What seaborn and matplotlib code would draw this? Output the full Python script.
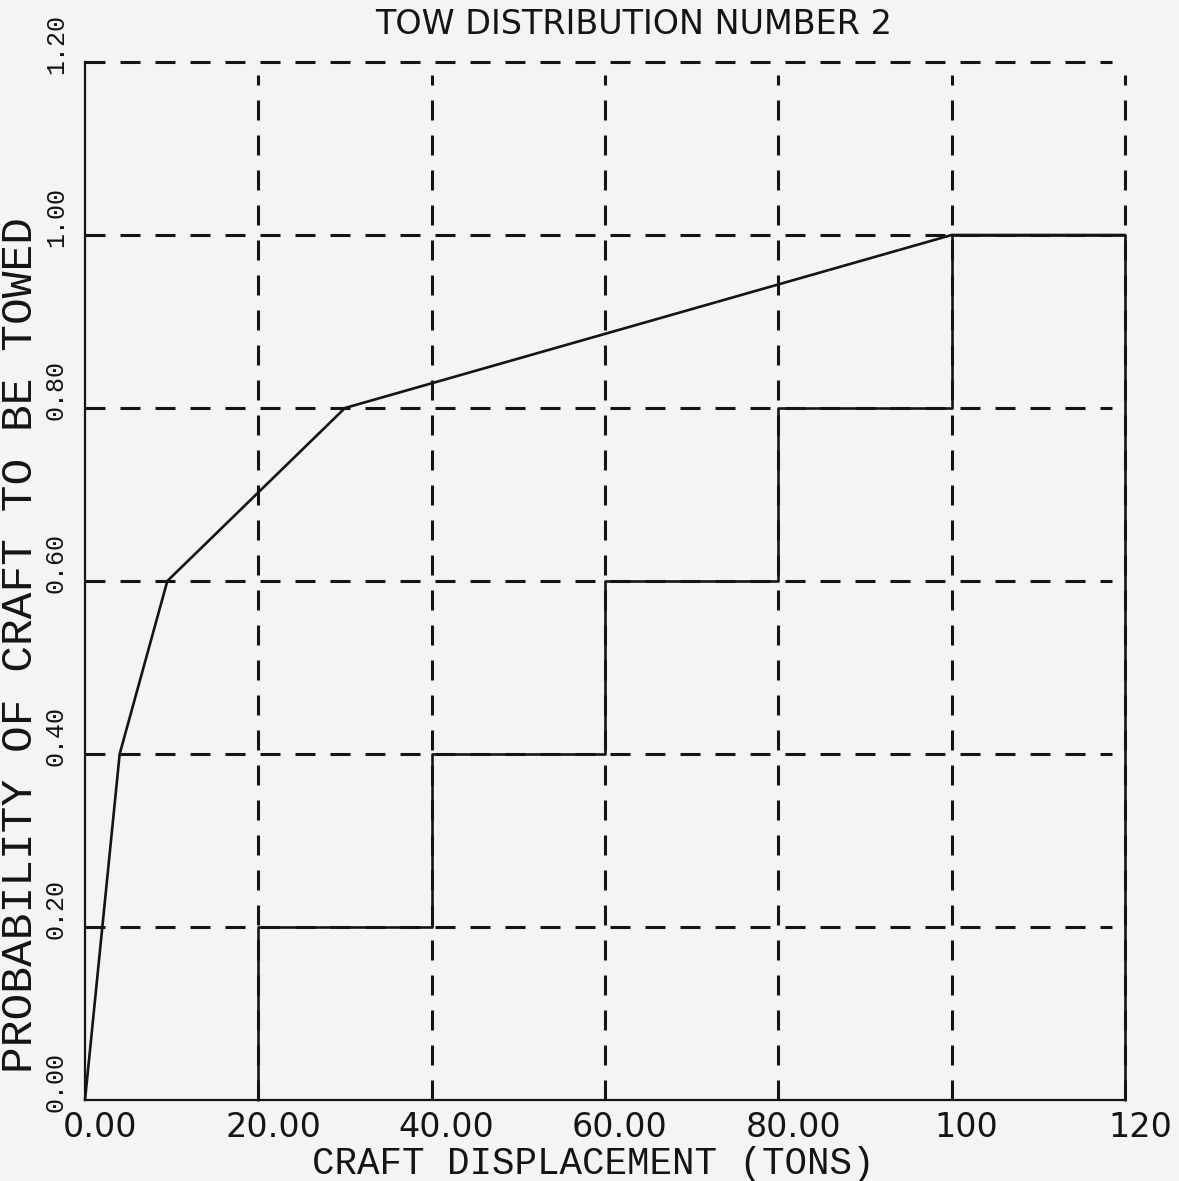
import matplotlib
matplotlib.use("Agg")
import matplotlib.pyplot as plt
import matplotlib.transforms as mtransforms
import numpy as np
import pandas as pd
import seaborn as sns

# Cumulative tow probability against craft displacement
displacement = [0.0, 2.0, 4.0, 9.5, 30.0, 100.0, 120.0]
probability = [0.0, 0.2, 0.4, 0.6, 0.8, 1.0, 1.0]

# Stepped class outline: class edges and the level of each class
step_edges = [20, 40, 60, 80, 100, 120]
step_levels = [0.2, 0.4, 0.6, 0.8, 1.0]

x_ticks = [0, 20, 40, 60, 80, 100, 120]
x_tick_labels = ["0.00", "20.00", "40.00", "60.00", "80.00", "100", "120"]
y_ticks = [0.0, 0.2, 0.4, 0.6, 0.8, 1.0, 1.2]
y_tick_labels = ["0.00", "0.20", "0.40", "0.60", "0.80", "1.00", "1.20"]

title = "TOW DISTRIBUTION NUMBER 2"
x_label = "CRAFT DISPLACEMENT (TONS)"
y_label = "PROBABILITY OF CRAFT TO BE TOWED"

paper = "#f4f4f2"
ink = "#141414"
mono = ["Liberation Mono", "DejaVu Sans Mono"]

sns.set_theme(style="white")
plt.rcParams["lines.scale_dashes"] = False
plt.rcParams["font.family"] = ["DejaVu Sans"]

fig = plt.figure(figsize=(11.79, 11.81), dpi=100, facecolor=paper)
ax = fig.add_axes([85 / 1179, 1 - 1100 / 1181, 1040 / 1179, 1038 / 1181])
ax.set_facecolor(paper)

dash = (0, (14.4, 10.8))
for yv in y_ticks[1:]:
    ax.plot([0, 118.5], [yv, yv], color=ink, lw=2.2, ls=dash, zorder=1,
            dash_capstyle="butt", clip_on=False)
for xv in x_ticks[1:]:
    ax.plot([xv, xv], [0, 1.185], color=ink, lw=2.2, ls=dash, zorder=1,
            dash_capstyle="butt", clip_on=False)

# outline of the stepped classes
sx = [step_edges[0]]
sy = [0.0]
for i, lvl in enumerate(step_levels):
    sx += [step_edges[i], step_edges[i + 1]]
    sy += [lvl, lvl]
sx.append(step_edges[-1])
sy.append(0.0)
steps = pd.DataFrame({"x": sx, "y": sy})
sns.lineplot(data=steps, x="x", y="y", sort=False, estimator=None,
             color=ink, lw=1.9, ax=ax, zorder=3, clip_on=False)

curve = pd.DataFrame({"x": displacement, "y": probability})
sns.lineplot(data=curve, x="x", y="y", sort=False, estimator=None,
             color=ink, lw=1.9, ax=ax, zorder=4, clip_on=False)

ax.set_xlim(0, 120)
ax.set_ylim(0, 1.2)
for side in ["top", "right"]:
    ax.spines[side].set_visible(False)
for side in ["left", "bottom"]:
    ax.spines[side].set_color(ink)
    ax.spines[side].set_linewidth(1.6)

ax.set_xticks(x_ticks)
ax.set_xticklabels(x_tick_labels, fontsize=24, color=ink, ha="center")
ax.set_yticks(y_ticks)
ax.set_yticklabels(y_tick_labels, fontsize=18, color=ink, rotation=90,
                   va="bottom", ha="center", family=mono)
ax.tick_params(axis="x", direction="out", length=6, width=1.6, color=ink, pad=2)
ax.tick_params(axis="y", direction="out", length=8, width=1.6, color=ink, pad=13)

shift_x = mtransforms.ScaledTranslation(15 / 100, 0, fig.dpi_scale_trans)
for lab in ax.get_xticklabels():
    lab.set_transform(lab.get_transform() + shift_x)
shift_y = mtransforms.ScaledTranslation(0, -12 / 100, fig.dpi_scale_trans)
for lab in ax.get_yticklabels():
    lab.set_transform(lab.get_transform() + shift_y)

ax.set_xlabel(x_label, fontsize=27, color=ink, va="center", family=mono)
ax.xaxis.set_label_coords(0.489, -0.062)
ax.set_ylabel(y_label, fontsize=32, color=ink, va="center", family=mono)
ax.yaxis.set_label_coords(-0.062, 0.438)

fig.text(634 / 1179, 1 - 24 / 1181, title, ha="center", va="center",
         fontsize=24, color=ink,
         family=["Liberation Sans Narrow", "DejaVu Sans Condensed", "DejaVu Sans"])

fig.savefig("out.png", dpi=100, facecolor=paper)
